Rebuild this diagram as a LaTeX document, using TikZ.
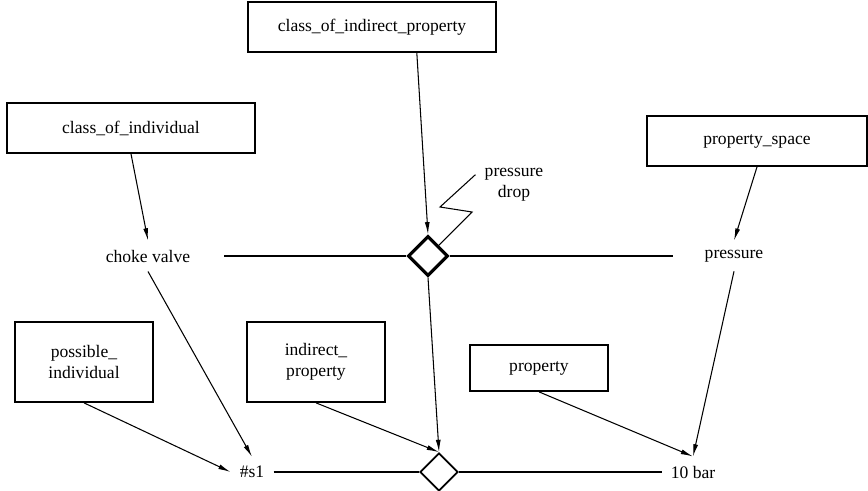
\documentclass[tikz,border=0pt]{standalone}
\usepackage{fontspec}
\setmainfont{Liberation Serif}
\usetikzlibrary{shapes.geometric,arrows.meta}

\begin{document}
\begin{tikzpicture}
  [x=0.02cm,y=-0.02cm,semithick,>={Latex[length=7pt,width=2.8pt]},
   box/.style={draw,rectangle,line width=1pt,align=center},
   txt/.style={inner sep=5pt,align=center},
   rel/.style={draw,diamond,aspect=1,inner sep=0pt}]
  \useasboundingbox (0,0) rectangle (868,490);

  % classes
  \node[box,minimum width=4.96cm,minimum height=1cm] (cip) at (372,27) {class\_of\_indirect\_property};
  \node[box,minimum width=4.96cm,minimum height=1cm] (coi) at (131,128) {class\_of\_individual};
  \node[box,minimum width=4.4cm,minimum height=1cm] (ps) at (757,141) {property\_space};
  \node[box,minimum width=2.76cm,minimum height=1.6cm] (pi) at (84,362) {possible\_\\individual};
  \node[box,minimum width=2.76cm,minimum height=1.6cm] (ip) at (316,362) {indirect\_\\property};
  \node[box,minimum width=2.76cm,minimum height=0.92cm] (prop) at (539,368) {property};

  % instances
  \node[txt] (choke) at (148,256) {choke valve};
  \node[txt] (press) at (734,256) {pressure};
  \node[txt] (drop) at (514,185) {pressure\\drop};
  \node[txt] (s1) at (252,472) {\#s1};
  \node[txt] (tenbar) at (693,472) {10 bar};

  % relations
  \node[rel,line width=1.8pt,minimum size=0.8cm] (dtop) at (428,256) {};
  \node[rel,line width=1pt,minimum size=0.76cm] (dbot) at (439,472) {};

  \draw[shorten <=14pt] (choke.east) -- (dtop.west);
  \draw[shorten >=13pt] (dtop.east) -- (press.west);
  \draw (s1.east) -- (dbot.west);
  \draw (dbot.east) -- (tenbar.west);

  \foreach \from/\to in {cip.-30/dtop.north,coi.south/choke.north,ps.south/press.north,
                         choke.south/s1.north,pi.south/s1.west,dtop.south/dbot.north,
                         ip.south/dbot.north,prop.south/tenbar.north,press.south/tenbar.north}
    \draw[->] (\from) -- (\to);

  % pressure drop marker
  \draw (dtop.north east) -- (472,212) -- (440,207) -- (drop.165);

\end{tikzpicture}
\end{document}
